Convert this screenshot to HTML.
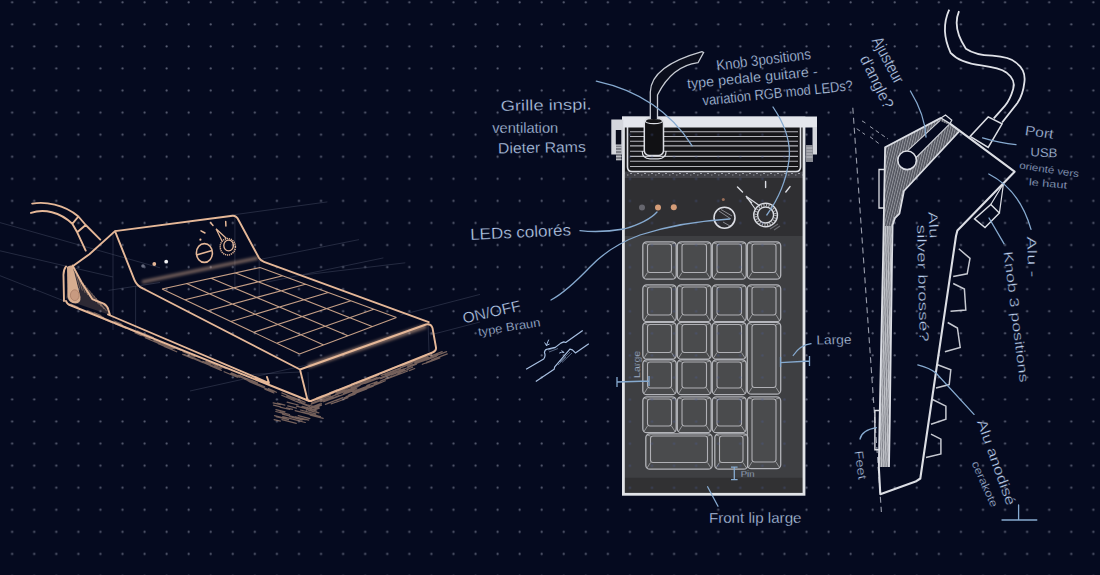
<!DOCTYPE html>
<html><head><meta charset="utf-8"><style>
html,body{margin:0;padding:0;background:#050a1f;width:1100px;height:575px;overflow:hidden}
svg{display:block}
text{font-family:"Liberation Sans",sans-serif}
</style></head><body>
<svg width="1100" height="575" viewBox="0 0 1100 575">
<defs>
<pattern id="dots" x="0" y="0" width="22.065" height="22.065" patternUnits="userSpaceOnUse">
<circle cx="12.15" cy="2.3" r="1.1" fill="#5a5f74"/>
</pattern>
<pattern id="hatch" width="2.4" height="6" patternUnits="userSpaceOnUse" patternTransform="rotate(14)">
<rect width="1" height="6" fill="#d8dae0" opacity="0.5"/>
</pattern>
<pattern id="hatchv" width="2.2" height="9" patternUnits="userSpaceOnUse" patternTransform="rotate(-1.2)">
<rect width="1.1" height="9" fill="#eceef2" opacity="0.6"/>
</pattern>
<pattern id="dots2" x="0" y="0" width="22.065" height="22.065" patternUnits="userSpaceOnUse">
<circle cx="12.15" cy="2.3" r="1.2" fill="#4a5c96" opacity="0.35"/>
</pattern>
<pattern id="speck" width="7" height="4" patternUnits="userSpaceOnUse">
<rect x="0" y="1" width="2" height="1" fill="#9a9ca4"/><rect x="4" y="2.5" width="1.5" height="1" fill="#8a8c94"/>
</pattern>
<filter id="fuzz" x="-5%" y="-5%" width="110%" height="110%"><feGaussianBlur stdDeviation="0.45"/></filter>
<filter id="soft" x="-10%" y="-10%" width="120%" height="120%"><feGaussianBlur stdDeviation="3"/></filter>
<filter id="soft2" x="-10%" y="-50%" width="120%" height="200%"><feGaussianBlur stdDeviation="1.6"/></filter>
</defs>
<rect width="1100" height="575" fill="#050a1f"/>
<rect width="1100" height="575" fill="url(#dots)"/>
<line x1="0" y1="222.6" x2="160" y2="267.8" stroke="#4a5068" stroke-width="0.9" opacity="0.5"/>
<line x1="0" y1="250.8" x2="113" y2="277" stroke="#4a5068" stroke-width="0.9" opacity="0.5"/>
<line x1="0" y1="275.7" x2="66" y2="301.7" stroke="#4a5068" stroke-width="0.9" opacity="0.5"/>
<line x1="108.5" y1="290.4" x2="160" y2="282.5" stroke="#4a5068" stroke-width="0.9" opacity="0.5"/>
<line x1="230" y1="215.3" x2="327.4" y2="201.9" stroke="#4a5068" stroke-width="0.9" opacity="0.5"/>
<line x1="261.6" y1="259.1" x2="359" y2="239.6" stroke="#4a5068" stroke-width="0.9" opacity="0.5"/>
<line x1="303" y1="275" x2="405.3" y2="262.8" stroke="#4a5068" stroke-width="0.9" opacity="0.5"/>
<line x1="266.5" y1="282.2" x2="383.4" y2="257.9" stroke="#4a5068" stroke-width="0.9" opacity="0.5"/>
<line x1="400.4" y1="315.1" x2="480" y2="294.4" stroke="#4a5068" stroke-width="0.9" opacity="0.5"/>
<line x1="430" y1="335" x2="480" y2="322" stroke="#4a5068" stroke-width="0.9" opacity="0.5"/>
<line x1="190" y1="391" x2="311.6" y2="364" stroke="#4a5068" stroke-width="0.9" opacity="0.5"/>
<line x1="240" y1="375" x2="300" y2="372" stroke="#4a5068" stroke-width="0.9" opacity="0.5"/>
<line x1="234.9" y1="215" x2="234.9" y2="290" stroke="#4a5068" stroke-width="0.9" opacity="0.5"/>
<line x1="259.2" y1="260" x2="259.2" y2="300" stroke="#4a5068" stroke-width="0.9" opacity="0.5"/>
<line x1="113" y1="231.6" x2="113" y2="330" stroke="#4a5068" stroke-width="0.9" opacity="0.5"/>
<line x1="135.6" y1="286" x2="135.6" y2="330" stroke="#4a5068" stroke-width="0.9" opacity="0.5"/>
<line x1="308" y1="372" x2="309" y2="402" stroke="#4a5068" stroke-width="0.9" opacity="0.5"/>
<line x1="428" y1="322" x2="429" y2="352" stroke="#4a5068" stroke-width="0.9" opacity="0.5"/>
<path d="M387.5 378.6 l13.7 -5.2 M399.3 374.2 l5.3 -2.0 M422.6 361.2 l14.9 -5.7 M366.1 381.7 l11.0 -4.2 M311.1 404.3 l8.1 -3.1 M400.5 366.0 l13.8 -5.2 M386.4 373.2 l5.0 -1.9 M335.4 394.5 l15.8 -6.0 M344.2 398.3 l10.9 -4.2 M335.4 402.5 l12.6 -4.8 M416.7 360.8 l9.0 -3.4 M325.8 396.0 l8.3 -3.2 M306.3 410.1 l8.7 -3.3 M409.2 366.2 l8.5 -3.2 M392.2 368.2 l15.7 -6.0 M402.5 373.0 l5.2 -2.0 M350.1 390.3 l5.1 -1.9 M331.1 403.9 l7.2 -2.7 M422.3 364.3 l8.8 -3.3 M374.1 384.1 l6.2 -2.4 M409.3 370.6 l5.4 -2.1 M320.9 401.8 l11.7 -4.5 M348.4 395.2 l11.0 -4.2 M344.5 388.7 l5.9 -2.2 M390.4 377.5 l6.8 -2.6 M428.8 358.0 l9.5 -3.6 M380.8 380.9 l10.0 -3.8 M313.9 410.1 l5.4 -2.0 M414.5 362.2 l13.0 -5.0 M385.4 378.7 l6.2 -2.3 M325.4 404.4 l8.2 -3.1 M431.6 359.9 l15.7 -6.0 M366.8 385.5 l10.3 -3.9 M360.4 384.0 l9.1 -3.5 M426.0 360.2 l10.5 -4.0 M320.3 401.1 l13.6 -5.2 M353.3 392.7 l13.5 -5.1 M391.2 376.7 l9.0 -3.4 M343.3 393.7 l13.5 -5.1 M344.2 397.9 l12.1 -4.6 M309.5 408.2 l7.8 -2.9 M366.7 387.7 l12.1 -4.6 M352.5 391.9 l13.1 -5.0 M351.9 393.9 l14.6 -5.5 M429.2 362.0 l10.7 -4.1 M327.6 403.4 l15.3 -5.8 M391.5 374.9 l13.0 -5.0 M404.1 369.0 l12.3 -4.7 M386.3 378.9 l12.0 -4.6 M311.4 403.0 l9.9 -3.7 M331.6 399.0 l11.9 -4.5 M363.7 381.4 l5.6 -2.1 M343.9 388.7 l7.1 -2.7 M365.7 383.3 l11.7 -4.5 M336.2 400.4 l5.0 -1.9 M343.8 393.0 l6.3 -2.4 M351.3 384.4 l11.7 -4.5 M377.9 378.8 l11.4 -4.3 M410.2 365.7 l13.9 -5.3 M353.6 385.7 l11.6 -4.4 M425.8 363.1 l11.7 -4.4 M419.1 358.3 l6.2 -2.4 M386.2 373.4 l11.9 -4.5 M352.7 388.3 l7.5 -2.8 M431.0 357.5 l15.6 -5.9 M381.5 375.5 l15.8 -6.0 M358.9 385.2 l15.8 -6.0 M343.5 393.4 l6.3 -2.4 M364.4 383.5 l13.6 -5.2 M311.3 407.9 l8.0 -3.0 M402.7 366.0 l7.9 -3.0 M430.5 356.0 l11.7 -4.4 M385.3 376.2 l13.2 -5.0 M401.1 367.6 l10.9 -4.1 M343.3 393.4 l10.1 -3.8 M398.6 370.9 l5.4 -2.1 M364.2 389.1 l14.8 -5.6 M309.3 410.7 l9.7 -3.7 M398.0 373.2 l10.3 -3.9 M353.4 387.4 l14.4 -5.5 M346.1 396.5 l5.7 -2.2 M395.5 372.1 l8.1 -3.1 M421.1 358.7 l10.3 -3.9 M369.7 381.1 l6.7 -2.5 M410.4 363.0 l7.5 -2.9 M407.3 369.2 l5.3 -2.0 M426.6 362.2 l12.7 -4.8 M415.0 362.7 l12.1 -4.6 M398.6 368.5 l8.2 -3.1 M323.7 401.8 l9.6 -3.6 M384.1 372.1 l6.2 -2.4 M317.5 399.6 l11.3 -4.3 M415.7 360.2 l9.7 -3.7 M381.3 377.4 l15.3 -5.8 M314.8 407.6 l6.7 -2.5 M371.0 386.4 l11.1 -4.2 M341.4 395.3 l7.8 -3.0 M370.9 378.2 l7.6 -2.9 M400.0 367.7 l12.8 -4.9 M315.4 405.8 l6.0 -2.3 M381.1 375.4 l14.6 -5.6 M348.8 394.8 l5.3 -2.0 M314.8 401.6 l15.5 -5.9 M335.9 392.7 l15.7 -6.0 M408.7 363.1 l11.9 -4.5 M335.5 394.4 l11.8 -4.5 M356.1 384.8 l14.1 -5.4 M407.7 366.5 l14.4 -5.5 M380.5 378.6 l13.1 -5.0 M316.4 398.1 l7.2 -2.7 M415.2 362.6 l13.4 -5.1 M365.3 388.0 l11.8 -4.5 M363.2 380.5 l6.7 -2.5 M351.7 387.9 l14.7 -5.6 M337.5 392.9 l6.8 -2.6 M338.9 396.0 l5.4 -2.0 M354.2 393.8 l12.6 -4.8 M367.0 388.5 l6.3 -2.4 M341.4 395.2 l13.0 -4.9 M329.6 392.8 l7.5 -2.9 M356.0 392.5 l9.0 -3.4 M366.8 382.2 l13.1 -5.0 M330.1 397.1 l12.4 -4.7 M384.8 374.6 l15.7 -6.0 M311.9 408.3 l9.5 -3.6 M374.7 384.9 l10.7 -4.1 M318.7 398.7 l14.9 -5.7 M421.3 356.7 l7.7 -2.9 M356.1 383.5 l7.8 -3.0 M348.1 387.9 l5.4 -2.1 M329.6 399.2 l9.4 -3.6 M317.8 401.8 l6.2 -2.4 M420.4 361.9 l14.4 -5.5 M309.6 407.8 l10.4 -3.9 M356.6 390.3 l13.0 -4.9 M343.8 392.0 l14.1 -5.4 M323.1 400.2 l6.0 -2.3 M406.9 364.7 l6.4 -2.4 M338.1 391.3 l9.7 -3.7 M335.0 391.0 l12.7 -4.8 M280.0 407.1 l9.7 2.4 M275.9 409.6 l9.1 2.3 M302.1 412.0 l15.0 3.7 M298.2 415.7 l11.7 2.9 M289.7 416.7 l12.6 3.1 M310.2 415.1 l13.0 3.3 M282.7 416.6 l9.8 2.5 M277.2 403.2 l7.7 1.9 M282.5 414.2 l8.9 2.2 M274.5 415.7 l11.6 2.9 M273.1 402.9 l7.3 1.8 M286.3 417.5 l15.5 3.9 M296.5 406.2 l10.3 2.6 M286.5 407.9 l6.1 1.5 M295.4 416.9 l13.3 3.3 M275.8 411.5 l7.7 1.9 M300.4 410.0 l15.4 3.8 M303.8 404.1 l9.2 2.3 M308.6 410.3 l10.3 2.6 M289.7 415.8 l15.4 3.8 M293.3 419.5 l12.0 3.0 M276.1 416.7 l10.2 2.5 M274.1 419.6 l6.3 1.6 M295.1 410.7 l14.8 3.7 M287.7 405.9 l8.8 2.2 M280.0 412.1 l9.6 2.4 M302.0 406.3 l9.5 2.4 M281.9 419.7 l14.4 3.6 M306.0 413.1 l10.0 2.5 M277.7 417.0 l10.9 2.7 M273.5 405.1 l7.0 1.7 M300.7 418.2 l8.0 2.0 M303.9 407.8 l12.8 3.2 M306.5 413.2 l14.0 3.5 M287.1 402.2 l11.1 2.8 M208.5 361.8 l9.1 3.8 M144.9 334.0 l8.5 3.6 M160.3 342.6 l11.6 4.9 M164.2 346.5 l12.5 5.3 M288.0 398.0 l11.4 4.8 M196.7 359.5 l8.9 3.7 M210.1 364.7 l10.2 4.3 M137.1 330.9 l6.7 2.8 M154.0 340.4 l12.1 5.1 M238.6 375.2 l13.4 5.6 M134.8 332.8 l6.6 2.8 M247.8 380.7 l13.7 5.7 M281.7 395.3 l12.7 5.3 M244.3 379.0 l7.7 3.2 M191.9 358.0 l7.9 3.3 M300.0 402.4 l9.1 3.8 M70.7 304.1 l7.4 3.1 M224.1 371.7 l13.3 5.6 M214.8 365.4 l6.9 2.9 M232.6 373.7 l11.7 4.9 M158.3 343.6 l7.7 3.2 M142.1 333.9 l11.0 4.6 M281.8 392.9 l11.1 4.6 M250.9 380.0 l6.5 2.7 M203.6 362.6 l13.0 5.5 M241.8 377.0 l9.4 3.9 M194.8 359.2 l8.4 3.5 M136.3 332.9 l13.7 5.8 M114.2 321.0 l6.9 2.9 M202.8 361.3 l7.5 3.1 M114.9 323.8 l11.2 4.7 M232.9 374.6 l6.5 2.7 M184.4 354.5 l13.7 5.7 M145.2 337.8 l11.2 4.7 M288.7 396.2 l11.6 4.9 M268.4 388.6 l6.8 2.9 M115.7 322.2 l6.7 2.8 M105.9 320.0 l6.8 2.9 M248.9 381.5 l12.5 5.3 M259.7 386.0 l13.4 5.6 M295.8 401.0 l13.7 5.8 M94.4 312.8 l6.5 2.7 M118.7 324.4 l9.7 4.1 M230.6 373.7 l6.7 2.8 M165.2 345.0 l9.0 3.8 M97.7 316.5 l9.0 3.8 M231.4 372.9 l13.7 5.8 M293.0 397.3 l12.1 5.1 M240.2 375.8 l6.9 2.9 M183.0 351.7 l11.9 5.0 M286.7 396.0 l8.3 3.5 M187.7 355.3 l12.3 5.2 M205.9 361.2 l8.7 3.7 M270.1 389.6 l6.4 2.7 M169.3 345.4 l11.3 4.8 M87.3 310.6 l6.8 2.8 M182.7 354.4 l10.3 4.3 M161.2 345.0 l6.7 2.8 M154.0 341.4 l6.0 2.5 M250.8 380.6 l6.1 2.6 M129.2 329.3 l9.1 3.8 M192.0 354.2 l7.7 3.3 M299.9 401.9 l9.8 4.1 M90.1 311.8 l13.6 5.7 M232.1 373.3 l6.4 2.7 M162.7 345.0 l9.5 4.0 M210.1 365.7 l11.2 4.7 M220.1 366.1 l6.2 2.6 M251.6 381.2 l13.0 5.5 M264.9 389.1 l9.0 3.8" stroke="#e6b898" stroke-width="1.2" opacity="0.5" fill="none" stroke-linecap="round" filter="url(#fuzz)"/>
<g filter="url(#soft2)" opacity="0.55"><path d="M142 282 L258 258" stroke="#e6b898" stroke-width="3"/><path d="M308 366 L426 326" stroke="#e6b898" stroke-width="4.5"/></g>
<path d="M162.0 289.0 L299.5 354.0 M186.5 283.6 L323.8 344.9 M211.0 278.2 L348.0 335.8 M235.5 272.9 L372.2 326.6 M260.0 267.5 L396.5 317.5 M162.0 289.0 L260.0 267.5 M184.9 299.8 L282.8 275.8 M207.8 310.7 L305.5 284.2 M230.8 321.5 L328.2 292.5 M253.7 332.3 L351.0 300.8 M276.6 343.2 L373.8 309.2 M299.5 354.0 L396.5 317.5" stroke="#e6b898" stroke-width="1.1" opacity="0.85" fill="none"/>
<path d="M32.2 203.6 C45 201.5 64 204 78.4 216.5 M31 212.9 C44 208.5 60 212 72.3 223.8 M78.4 216.5 L72.3 223.8 M85.7 225 L77.2 232.3 M78.4 216.5 L85.7 225 M72.3 223.8 L77.2 232.3 M85.7 225 L100.3 239.6 M77.2 232.3 L85.7 250.6 M72.3 266.4 L89.4 254.2 L115 231.1 L232.6 215.7 Q236.5 215.5 238.5 220 L258.7 257.4 Q260.5 260.5 264 261.8 L428.7 322.2 M115 231.1 L134.4 279.8 Q137 286 143 288.5 L300 369.5 M300 369.5 L426 324.5 Q431 323.5 432.5 328 L436 347.5 Q436.5 351 432.5 352.5 L311 401 Q307.5 401.5 307 398 Z M66 301 Q67 304.5 71 305.5 L308 400.5 M108 314.5 L269 383 L267 377 M66 266.5 Q63.2 270 63.5 276 L64 301 M72.5 265.5 L82.1 283.3 L92.3 299.1 L103.6 303.6 Q107.5 306 108.2 309.3 L110 315" stroke="#e6b898" stroke-width="1.9" fill="none" stroke-linejoin="round" stroke-linecap="round"/>
<path d="M72.5 265.5 L82.1 283.3 L92.3 299.1 L103.6 303.6 L108.2 309.3 L110 315 L72 302 L66 298 Z" fill="#e6b898" opacity="0.18"/>
<path d="M74.0 272.0 l3.0 14.0 M76.2 274.6 l3.5 13.7 M78.4 277.2 l4.0 13.4 M80.6 279.8 l4.5 13.1 M82.8 282.4 l5.0 12.8 M85.0 285.0 l5.5 12.5 M87.2 287.6 l6.0 12.2 M89.4 290.2 l6.5 11.9 M91.6 292.8 l7.0 11.6 M93.8 295.4 l7.5 11.3 M96.0 298.0 l8.0 11.0 M98.2 300.6 l8.5 10.7" stroke="#e6b898" stroke-width="0.8" opacity="0.5" fill="none"/>
<path d="M67 267 Q70 264.5 72.5 266 L80.5 297 Q81 303 75.5 303.5 Q69 303 67.5 297 Z" fill="#e6b898" opacity="0.92"/>
<ellipse cx="74.8" cy="295.2" rx="4.4" ry="5.4" fill="#c89a80" stroke="#a87c66" stroke-width="0.8"/>
<ellipse cx="204.4" cy="253" rx="8" ry="9.4" fill="none" stroke="#e6b898" stroke-width="1.6"/>
<path d="M196.5 255 L212 250.5" stroke="#e6b898" stroke-width="1.6"/>
<ellipse cx="227.8" cy="246.8" rx="7.6" ry="8.2" fill="none" stroke="#e6b898" stroke-width="1.5" stroke-dasharray="1.2 0.8"/>
<ellipse cx="228.6" cy="245.5" rx="4.8" ry="5.4" fill="none" stroke="#e6b898" stroke-width="1.3"/>
<path d="M216 228.7 L222 241 M216 228.7 L226.5 238.5" stroke="#e6b898" stroke-width="1.2" fill="none"/>
<path d="M201 230.8 L205 233 M210.5 222.5 L213 225.5 M225.7 221.5 L225.9 226" stroke="#e6b898" stroke-width="1.5" stroke-linecap="round"/>
<circle cx="200.4" cy="239.7" r="1.1" fill="#e6b898"/>
<circle cx="143" cy="266" r="1.8" fill="#6a6e82"/>
<circle cx="154.3" cy="264" r="1.9" fill="#e6b898"/>
<circle cx="166.2" cy="261.7" r="1.9" fill="#f2f2f4"/>
<rect x="623.5" y="120" width="180" height="374" fill="#3e3f42"/>
<rect x="624.5" y="178" width="178.5" height="58" fill="#2f2f32"/>
<rect x="624.5" y="477.8" width="178.5" height="15.5" fill="#313133"/>
<rect x="625" y="127" width="178" height="45" fill="#161619"/>
<rect x="624.5" y="171.5" width="178.5" height="6.5" fill="#404046"/>
<rect x="624.5" y="172.5" width="178.5" height="4" fill="url(#speck)"/>
<g stroke="#b4b5bb" stroke-width="1.15"><line x1="630" y1="131.7" x2="798" y2="131.7"/><line x1="630" y1="136.5" x2="798" y2="136.5"/><line x1="630" y1="141.2" x2="798" y2="141.2"/><line x1="630" y1="145.8" x2="798" y2="145.8"/><line x1="630" y1="151.2" x2="798" y2="151.2"/><line x1="630" y1="156.3" x2="798" y2="156.3"/><line x1="630" y1="161.2" x2="798" y2="161.2"/><line x1="630" y1="166.5" x2="798" y2="166.5"/></g>
<path d="M627.5 126 V167 Q627.5 171.5 632 171.5 H796 Q800.5 171.5 800.5 167 V126" fill="none" stroke="#dcdee4" stroke-width="1.6"/>
<rect x="642.8" y="241.8" width="33.4" height="37.4" rx="4" fill="#48494b" stroke="#c6c7cc" stroke-width="1.3" stroke-opacity="0.85"/><rect x="647.5" y="244.0" width="24.0" height="28.5" rx="2.5" fill="#4a4b4d" stroke="#cacbd0" stroke-width="1.1" stroke-opacity="0.8"/><path d="M644.0 243.0 L647.5 244.0 M675.0 243.0 L671.5 244.0 M644.0 278.0 L647.5 272.5 M675.0 278.0 L671.5 272.5" stroke="#c0c1c6" stroke-width="1" stroke-opacity="0.65"/>
<rect x="677.3" y="241.8" width="33.9" height="37.4" rx="4" fill="#48494b" stroke="#c6c7cc" stroke-width="1.3" stroke-opacity="0.85"/><rect x="682" y="244.0" width="24.5" height="28.5" rx="2.5" fill="#4a4b4d" stroke="#cacbd0" stroke-width="1.1" stroke-opacity="0.8"/><path d="M678.5 243.0 L682 244.0 M710.0 243.0 L706.5 244.0 M678.5 278.0 L682 272.5 M710.0 278.0 L706.5 272.5" stroke="#c0c1c6" stroke-width="1" stroke-opacity="0.65"/>
<rect x="712.3" y="241.8" width="33.9" height="37.4" rx="4" fill="#48494b" stroke="#c6c7cc" stroke-width="1.3" stroke-opacity="0.85"/><rect x="717" y="244.0" width="24.5" height="28.5" rx="2.5" fill="#4a4b4d" stroke="#cacbd0" stroke-width="1.1" stroke-opacity="0.8"/><path d="M713.5 243.0 L717 244.0 M745.0 243.0 L741.5 244.0 M713.5 278.0 L717 272.5 M745.0 278.0 L741.5 272.5" stroke="#c0c1c6" stroke-width="1" stroke-opacity="0.65"/>
<rect x="642.8" y="284.8" width="33.4" height="36.9" rx="4" fill="#48494b" stroke="#c6c7cc" stroke-width="1.3" stroke-opacity="0.85"/><rect x="647.5" y="287.0" width="24.0" height="28.0" rx="2.5" fill="#4a4b4d" stroke="#cacbd0" stroke-width="1.1" stroke-opacity="0.8"/><path d="M644.0 286.0 L647.5 287.0 M675.0 286.0 L671.5 287.0 M644.0 320.5 L647.5 315 M675.0 320.5 L671.5 315" stroke="#c0c1c6" stroke-width="1" stroke-opacity="0.65"/>
<rect x="677.3" y="284.8" width="33.9" height="36.9" rx="4" fill="#48494b" stroke="#c6c7cc" stroke-width="1.3" stroke-opacity="0.85"/><rect x="682" y="287.0" width="24.5" height="28.0" rx="2.5" fill="#4a4b4d" stroke="#cacbd0" stroke-width="1.1" stroke-opacity="0.8"/><path d="M678.5 286.0 L682 287.0 M710.0 286.0 L706.5 287.0 M678.5 320.5 L682 315 M710.0 320.5 L706.5 315" stroke="#c0c1c6" stroke-width="1" stroke-opacity="0.65"/>
<rect x="712.3" y="284.8" width="33.9" height="36.9" rx="4" fill="#48494b" stroke="#c6c7cc" stroke-width="1.3" stroke-opacity="0.85"/><rect x="717" y="287.0" width="24.5" height="28.0" rx="2.5" fill="#4a4b4d" stroke="#cacbd0" stroke-width="1.1" stroke-opacity="0.8"/><path d="M713.5 286.0 L717 287.0 M745.0 286.0 L741.5 287.0 M713.5 320.5 L717 315 M745.0 320.5 L741.5 315" stroke="#c0c1c6" stroke-width="1" stroke-opacity="0.65"/>
<rect x="642.8" y="322.3" width="33.4" height="36.9" rx="4" fill="#48494b" stroke="#c6c7cc" stroke-width="1.3" stroke-opacity="0.85"/><rect x="647.5" y="324.5" width="24.0" height="28.0" rx="2.5" fill="#4a4b4d" stroke="#cacbd0" stroke-width="1.1" stroke-opacity="0.8"/><path d="M644.0 323.5 L647.5 324.5 M675.0 323.5 L671.5 324.5 M644.0 358.0 L647.5 352.5 M675.0 358.0 L671.5 352.5" stroke="#c0c1c6" stroke-width="1" stroke-opacity="0.65"/>
<rect x="677.3" y="322.3" width="33.9" height="36.9" rx="4" fill="#48494b" stroke="#c6c7cc" stroke-width="1.3" stroke-opacity="0.85"/><rect x="682" y="324.5" width="24.5" height="28.0" rx="2.5" fill="#4a4b4d" stroke="#cacbd0" stroke-width="1.1" stroke-opacity="0.8"/><path d="M678.5 323.5 L682 324.5 M710.0 323.5 L706.5 324.5 M678.5 358.0 L682 352.5 M710.0 358.0 L706.5 352.5" stroke="#c0c1c6" stroke-width="1" stroke-opacity="0.65"/>
<rect x="712.3" y="322.3" width="33.9" height="36.9" rx="4" fill="#48494b" stroke="#c6c7cc" stroke-width="1.3" stroke-opacity="0.85"/><rect x="717" y="324.5" width="24.5" height="28.0" rx="2.5" fill="#4a4b4d" stroke="#cacbd0" stroke-width="1.1" stroke-opacity="0.8"/><path d="M713.5 323.5 L717 324.5 M745.0 323.5 L741.5 324.5 M713.5 358.0 L717 352.5 M745.0 358.0 L741.5 352.5" stroke="#c0c1c6" stroke-width="1" stroke-opacity="0.65"/>
<rect x="642.8" y="359.8" width="33.4" height="34.9" rx="4" fill="#48494b" stroke="#c6c7cc" stroke-width="1.3" stroke-opacity="0.85"/><rect x="647.5" y="362.0" width="24.0" height="26.0" rx="2.5" fill="#4a4b4d" stroke="#cacbd0" stroke-width="1.1" stroke-opacity="0.8"/><path d="M644.0 361.0 L647.5 362.0 M675.0 361.0 L671.5 362.0 M644.0 393.5 L647.5 388 M675.0 393.5 L671.5 388" stroke="#c0c1c6" stroke-width="1" stroke-opacity="0.65"/>
<rect x="677.3" y="359.8" width="33.9" height="34.9" rx="4" fill="#48494b" stroke="#c6c7cc" stroke-width="1.3" stroke-opacity="0.85"/><rect x="682" y="362.0" width="24.5" height="26.0" rx="2.5" fill="#4a4b4d" stroke="#cacbd0" stroke-width="1.1" stroke-opacity="0.8"/><path d="M678.5 361.0 L682 362.0 M710.0 361.0 L706.5 362.0 M678.5 393.5 L682 388 M710.0 393.5 L706.5 388" stroke="#c0c1c6" stroke-width="1" stroke-opacity="0.65"/>
<rect x="712.3" y="359.8" width="33.9" height="34.9" rx="4" fill="#48494b" stroke="#c6c7cc" stroke-width="1.3" stroke-opacity="0.85"/><rect x="717" y="362.0" width="24.5" height="26.0" rx="2.5" fill="#4a4b4d" stroke="#cacbd0" stroke-width="1.1" stroke-opacity="0.8"/><path d="M713.5 361.0 L717 362.0 M745.0 361.0 L741.5 362.0 M713.5 393.5 L717 388 M745.0 393.5 L741.5 388" stroke="#c0c1c6" stroke-width="1" stroke-opacity="0.65"/>
<rect x="642.8" y="396.8" width="33.4" height="35.9" rx="4" fill="#48494b" stroke="#c6c7cc" stroke-width="1.3" stroke-opacity="0.85"/><rect x="647.5" y="399.0" width="24.0" height="27.0" rx="2.5" fill="#4a4b4d" stroke="#cacbd0" stroke-width="1.1" stroke-opacity="0.8"/><path d="M644.0 398.0 L647.5 399.0 M675.0 398.0 L671.5 399.0 M644.0 431.5 L647.5 426 M675.0 431.5 L671.5 426" stroke="#c0c1c6" stroke-width="1" stroke-opacity="0.65"/>
<rect x="677.3" y="396.8" width="33.9" height="35.9" rx="4" fill="#48494b" stroke="#c6c7cc" stroke-width="1.3" stroke-opacity="0.85"/><rect x="682" y="399.0" width="24.5" height="27.0" rx="2.5" fill="#4a4b4d" stroke="#cacbd0" stroke-width="1.1" stroke-opacity="0.8"/><path d="M678.5 398.0 L682 399.0 M710.0 398.0 L706.5 399.0 M678.5 431.5 L682 426 M710.0 431.5 L706.5 426" stroke="#c0c1c6" stroke-width="1" stroke-opacity="0.65"/>
<rect x="712.3" y="396.8" width="33.9" height="35.9" rx="4" fill="#48494b" stroke="#c6c7cc" stroke-width="1.3" stroke-opacity="0.85"/><rect x="717" y="399.0" width="24.5" height="27.0" rx="2.5" fill="#4a4b4d" stroke="#cacbd0" stroke-width="1.1" stroke-opacity="0.8"/><path d="M713.5 398.0 L717 399.0 M745.0 398.0 L741.5 399.0 M713.5 431.5 L717 426 M745.0 431.5 L741.5 426" stroke="#c0c1c6" stroke-width="1" stroke-opacity="0.65"/>
<rect x="747.3" y="241.8" width="33.4" height="37.4" rx="4" fill="#48494b" stroke="#c6c7cc" stroke-width="1.3" stroke-opacity="0.85"/><rect x="752" y="244.0" width="24" height="28.5" rx="2.5" fill="#4a4b4d" stroke="#cacbd0" stroke-width="1.1" stroke-opacity="0.8"/><path d="M748.5 243.0 L752 244.0 M779.5 243.0 L776 244.0 M748.5 278.0 L752 272.5 M779.5 278.0 L776 272.5" stroke="#c0c1c6" stroke-width="1" stroke-opacity="0.65"/>
<rect x="747.3" y="284.8" width="33.4" height="36.9" rx="4" fill="#48494b" stroke="#c6c7cc" stroke-width="1.3" stroke-opacity="0.85"/><rect x="752" y="287.0" width="24" height="28.0" rx="2.5" fill="#4a4b4d" stroke="#cacbd0" stroke-width="1.1" stroke-opacity="0.8"/><path d="M748.5 286.0 L752 287.0 M779.5 286.0 L776 287.0 M748.5 320.5 L752 315 M779.5 320.5 L776 315" stroke="#c0c1c6" stroke-width="1" stroke-opacity="0.65"/>
<rect x="747.3" y="322.3" width="33.4" height="71.9" rx="4" fill="#48494b" stroke="#c6c7cc" stroke-width="1.3" stroke-opacity="0.85"/><rect x="752" y="324.5" width="24" height="63.0" rx="2.5" fill="#4a4b4d" stroke="#cacbd0" stroke-width="1.1" stroke-opacity="0.8"/><path d="M748.5 323.5 L752 324.5 M779.5 323.5 L776 324.5 M748.5 393.0 L752 387.5 M779.5 393.0 L776 387.5" stroke="#c0c1c6" stroke-width="1" stroke-opacity="0.65"/>
<rect x="747.3" y="396.8" width="33.4" height="71.9" rx="4" fill="#48494b" stroke="#c6c7cc" stroke-width="1.3" stroke-opacity="0.85"/><rect x="752" y="399.0" width="24" height="63.0" rx="2.5" fill="#4a4b4d" stroke="#cacbd0" stroke-width="1.1" stroke-opacity="0.8"/><path d="M748.5 398.0 L752 399.0 M779.5 398.0 L776 399.0 M748.5 467.5 L752 462 M779.5 467.5 L776 462" stroke="#c0c1c6" stroke-width="1" stroke-opacity="0.65"/>
<rect x="645.8" y="433.8" width="66.4" height="35.4" rx="4" fill="#48494b" stroke="#c6c7cc" stroke-width="1.3" stroke-opacity="0.85"/><rect x="650.5" y="436.0" width="57.0" height="26.5" rx="2.5" fill="#4a4b4d" stroke="#cacbd0" stroke-width="1.1" stroke-opacity="0.8"/><path d="M647.0 435.0 L650.5 436.0 M711.0 435.0 L707.5 436.0 M647.0 468.0 L650.5 462.5 M711.0 468.0 L707.5 462.5" stroke="#c0c1c6" stroke-width="1" stroke-opacity="0.65"/>
<rect x="714.8" y="433.8" width="32.9" height="35.4" rx="4" fill="#48494b" stroke="#c6c7cc" stroke-width="1.3" stroke-opacity="0.85"/><rect x="719.5" y="436.0" width="23.5" height="26.5" rx="2.5" fill="#4a4b4d" stroke="#cacbd0" stroke-width="1.1" stroke-opacity="0.8"/><path d="M716.0 435.0 L719.5 436.0 M746.5 435.0 L743 436.0 M716.0 468.0 L719.5 462.5 M746.5 468.0 L743 462.5" stroke="#c0c1c6" stroke-width="1" stroke-opacity="0.65"/>
<rect x="623.4" y="118" width="180.6" height="376.3" fill="none" stroke="#e2e4e8" stroke-width="2.8"/>
<rect x="622" y="116.5" width="195" height="11" fill="#e4e6ec"/>
<rect x="611.3" y="119.5" width="12" height="35" fill="#d4d6dc"/>
<rect x="615.8" y="130" width="5.5" height="14.5" fill="#0a0d1c"/>
<rect x="616" y="145.5" width="5.5" height="15" fill="#7c7e86"/>
<path d="M616 147.5 H621.5 M616 150.5 H621.5 M616 153.5 H621.5 M616 156.5 H621.5 M616 159.5 H621.5" stroke="#c8cad0" stroke-width="0.8"/>
<rect x="812.5" y="127" width="4.5" height="27.5" fill="#d4d6dc"/>
<rect x="806" y="145" width="7" height="17" fill="#8a8c94"/>
<path d="M806.5 148 H812.5 M806.5 151 H812.5 M806.5 154 H812.5 M806.5 157 H812.5" stroke="#d0d2d8" stroke-width="0.8"/>
<path d="M642.2 151 Q642.2 158.8 650 158.8 H658.3 Q666.1 158.8 666.1 151" fill="none" stroke="#dcdee4" stroke-width="1.2"/>
<rect x="644.3" y="118" width="19.2" height="37.5" rx="5" fill="#111114" stroke="#dcdee4" stroke-width="1.5"/>
<ellipse cx="653.9" cy="121" rx="8.5" ry="2.6" fill="none" stroke="#dcdee4" stroke-width="1.1"/>
<path d="M650.3 119 V92 Q651 66 702 51.7 L703.6 52.5 L698 62.7 Q672 66 657.5 95 V119" fill="#0b0e1c" stroke="#c8ccd4" stroke-width="1.3"/>
<circle cx="642" cy="207.4" r="3" fill="#66666e"/>
<circle cx="658" cy="207.4" r="3" fill="#d49c78"/>
<circle cx="673.8" cy="207.2" r="3" fill="#d49c78"/>
<circle cx="723.3" cy="199.5" r="1.5" fill="#9a6e58"/>
<circle cx="724.5" cy="217.7" r="10.5" fill="#2b2b2f" stroke="#dcdee4" stroke-width="1.6"/>
<path d="M719 211 L731 219 M721 209.5 L732 216 M723 222 L730 226" stroke="#8a8b92" stroke-width="1"/>
<circle cx="765.6" cy="215" r="11.8" fill="none" stroke="#dcdee4" stroke-width="1.5"/>
<circle cx="765.6" cy="215" r="8" fill="none" stroke="#dcdee4" stroke-width="1.4"/>
<circle cx="765.6" cy="215" r="9.9" fill="none" stroke="#b0b2b8" stroke-width="2.6" stroke-dasharray="1 1.6"/>
<path d="M745.8 196 L760 206 M745.8 196 L756 210 M746.5 197.5 L752 203" stroke="#dcdee4" stroke-width="1.1" fill="none"/>
<path d="M765.6 181.5 V187.5 M737.5 187 L742.5 192 M790 186.6 L785.8 192" stroke="#dcdee4" stroke-width="1.4" stroke-linecap="round"/>
<path d="M770 229 L778 224 M774 230 L780 226" stroke="#6a6b72" stroke-width="1.2"/>
<path d="M852.8 107.8 L881.4 512" stroke="#9a9eac" stroke-width="1.1" stroke-dasharray="6 4" fill="none"/>
<path d="M870 126.5 L888 139 M870 136.7 L880.2 144.6 M862 120.9 L868 124.5 M856.7 128.7 L865 134.5" stroke="#9a9eac" stroke-width="1" stroke-dasharray="4 3" fill="none"/>
<polygon points="885.1,147.3 941.0,117.9 950.0,123.6 959.1,131.5 903.9,191.0 899.4,213.6 894.9,218.1 892.6,225.0 892.0,260.0 889.8,420.0 889.0,467.0 878.8,467.0 879.6,420.0 883.0,260.0" fill="#50525c"/>
<polygon points="885.1,147.3 941.0,117.9 950.0,123.6 959.1,131.5 903.9,191.0 899.4,213.6 894.9,218.1 892.6,225.0 892.0,260.0 889.8,420.0 889.0,467.0 878.8,467.0 879.6,420.0 883.0,260.0" fill="url(#hatch)"/>
<polygon points="883.5,226.0 891.5,226.0 891.5,260.0 889.3,420.0 888.5,467.0 879.3,467.0 880.1,420.0 883.5,260.0" fill="#9a9ca4" opacity="0.55"/>
<polygon points="883.5,226.0 891.5,226.0 891.5,260.0 889.3,420.0 888.5,467.0 879.3,467.0 880.1,420.0 883.5,260.0" fill="url(#hatchv)"/>
<polygon points="908.2,150.1 939.9,120.7 948.9,124.7 916.2,157.5" fill="#050a1f"/>
<path d="M908.2 150.1 L939.9 120.7 M916.2 157.5 L948.9 124.7" stroke="#d0d2d8" stroke-width="1.1" fill="none"/>
<circle cx="907.1" cy="160.3" r="9.3" fill="#050a1f" stroke="#dcdee4" stroke-width="1.6"/>
<path d="M878.8 467 L879.6 420 L883 260 L885.1 147.3 L941 117.9 M959.1 131.5 L903.9 191 L899.4 213.6 L894.9 218.1 L892.6 225 L892 260 L889.8 420 L889 467" stroke="#dcdee4" stroke-width="1.8" fill="none" stroke-linejoin="round"/>
<path d="M941 117.9 L945.5 115.1 L951.8 120.2 L950 123.6 Z" stroke="#dcdee4" stroke-width="1.2" fill="none"/>
<path d="M884.5 169.5 H879 V208 H884.5" stroke="#dcdee4" stroke-width="1.3" fill="none"/>
<path d="M950 123.6 L1014.6 171.7 L957.4 230.6 L956 236 L920.3 478.5 L915.6 481.6 L880.3 494.2 L878.8 467" stroke="#dcdee4" stroke-width="2.1" fill="none" stroke-linejoin="round"/>
<path d="M1003.5 183.5 L990.8 204.5 M1003.5 183.5 L999.4 213.1" stroke="#dcdee4" stroke-width="1.2" fill="none"/>
<polygon points="974.5,218.9 985.0,227.5 999.4,213.1 990.8,204.5" fill="none" stroke="#dcdee4" stroke-width="1.4"/>
<path d="M958.8 248.7 L970.0 258.4 L967.2 273.8 L953.2 276.5 M953.2 283.5 L964.4 289.0 L965.8 310.0 L950.5 311.3 M947.7 322.5 L957.4 328.0 L960.2 347.5 L944.9 351.7 M937.6 364.8 L950.8 369.8 L949.2 384.6 L936.0 388.0 M932.6 399.5 L945.9 406.1 L945.9 419.3 L931.0 424.3 M931.0 434.2 L940.9 439.2 L940.9 454.0 L926.0 457.4" stroke="#dcdee4" stroke-width="1.5" fill="none" opacity="0.9"/>
<path d="M879.6 410.5 H874.9 V449.7 H879.6" stroke="#dcdee4" stroke-width="1.4" fill="none"/>
<path d="M949.2 9.7 Q940 30 950.6 52.9 Q960 63 981.2 65.4 Q1000 68 1006.3 72.4 Q1016 80 1013.2 89 Q1010 100 1004.9 105.8 L993.8 118.3" stroke="#e0e2e8" stroke-width="1.8" fill="none"/>
<path d="M959 11.1 Q952 28 965.9 48.7 Q975 55 992.4 55.7 Q1010 57 1016 62.6 Q1026 70 1024.4 82.1 Q1023 95 1017.4 103 L1002.1 122.5" stroke="#e0e2e8" stroke-width="1.8" fill="none"/>
<polygon points="988.2,116.9 1002.1,123.9 988.2,147.5 970.1,136.4" fill="#050a1f" stroke="#dcdee4" stroke-width="1.5"/>
<rect x="624" y="128" width="180" height="366" fill="url(#dots2)"/>
<path d="M596.3 81.1 Q660 95 692.2 145.8 M773 107 Q792 135 789 160 Q785 190 766.8 215 M580 230.6 Q600 233 624 229 Q648 222 657 212 M551 300 Q566 292 590 267 Q610 246 640 235 Q680 222 729.7 219 M707.6 486.7 L718 506.3 M793.2 355.5 Q800 345 811 343.6 M910.4 91 Q925 115 926 137 M982.6 137.8 Q1000 143 1016 144.7 M988.8 174 Q1020 190 1031 229.4 M989 218 L1004.1 243.8 M917.8 364.8 Q930 368 936 373 L974 414.4 M876.4 427.6 Q862 430 860 439 M1002 520 H1036.8 M1018.6 505 V520" stroke="#86aad0" stroke-width="1.3" fill="none" stroke-linecap="round"/>
<path d="M526.1 369.3 L543.7 359 Q546 356 544.4 352.3 Q545 349.5 547.4 349.2 L555.3 347.4 L560.8 343.1 L563.8 341.9 L565.7 342.5 L582.7 330.4" stroke="#a8c0e2" stroke-width="1.2" fill="none" stroke-linejoin="round"/>
<path d="M535.8 381.5 L554.1 369.3 L554.7 366.9 L569.9 349.2 L572.4 349.8 L575.4 352.9 L588.8 343.7" stroke="#a8c0e2" stroke-width="1.2" fill="none" stroke-linejoin="round"/>
<path d="M548 350 L556 347.5 M549 352 L558 348.5 M560 362 L570 352 M562 362.5 L572 353 M558 365 L566 357" stroke="#a8c0e2" stroke-width="0.7" opacity="0.7" fill="none"/>
<path d="M548.6 340 L546.4 345.4 M546.4 345.4 L544.8 342.8 M546.4 345.4 L549.2 344.2 M559.6 352.9 Q561.5 351.6 563.8 352.3 M563.8 352.3 L561.8 350.8" stroke="#a8c0e2" stroke-width="1" fill="none" stroke-linecap="round"/>
<path d="M617 382 L649 381 M617 377 V387 M649 376 V386 M780.2 362.6 L809.8 361 M780.5 357 V367 M809.5 356 V366 M734.3 467.2 V479.6 M731 467.2 H737.6 M731 479.6 H737.6" stroke="#86aad0" stroke-width="1.3" fill="none"/>
<text x="500.7" y="111" fill="#bcd0ee" stroke="#050a1f" stroke-width="0.3" font-size="15" textLength="91" lengthAdjust="spacingAndGlyphs" transform="rotate(-1 500.7 111)">Grille inspi.</text>
<text x="492.2" y="132.6" fill="#bcd0ee" stroke="#050a1f" stroke-width="0.3" font-size="14" textLength="66" lengthAdjust="spacingAndGlyphs">ventilation</text>
<text x="498" y="153.5" fill="#bcd0ee" stroke="#050a1f" stroke-width="0.3" font-size="15" textLength="88" lengthAdjust="spacingAndGlyphs" transform="rotate(-1 498 153.5)">Dieter Rams</text>
<text x="717" y="70.5" fill="#bcd0ee" stroke="#050a1f" stroke-width="0.3" font-size="15" textLength="95" lengthAdjust="spacingAndGlyphs" transform="rotate(-7 717 70.5)">Knob 3positions</text>
<text x="687.5" y="88.5" fill="#bcd0ee" stroke="#050a1f" stroke-width="0.3" font-size="14" textLength="131" lengthAdjust="spacingAndGlyphs" transform="rotate(-5.5 687.5 88.5)">type pedale guitare -</text>
<text x="703" y="105.5" fill="#bcd0ee" stroke="#050a1f" stroke-width="0.3" font-size="14.5" textLength="151" lengthAdjust="spacingAndGlyphs" transform="rotate(-5.8 703 105.5)">variation RGB mod LEDs?</text>
<text x="470.4" y="239.9" fill="#bcd0ee" stroke="#050a1f" stroke-width="0.3" font-size="16" textLength="101" lengthAdjust="spacingAndGlyphs" transform="rotate(-2.6 470.4 239.9)">LEDs colorés</text>
<text x="464" y="323.5" fill="#bcd0ee" stroke="#050a1f" stroke-width="0.3" font-size="15" textLength="59" lengthAdjust="spacingAndGlyphs" transform="rotate(-13 464 323.5)">ON/OFF</text>
<text x="478.7" y="336" fill="#bcd0ee" stroke="#050a1f" stroke-width="0.3" font-size="12" textLength="63" lengthAdjust="spacingAndGlyphs" transform="rotate(-9 478.7 336)">type Braun</text>
<text x="708.9" y="522.6" fill="#bcd0ee" stroke="#050a1f" stroke-width="0.3" font-size="14" textLength="92.6" lengthAdjust="spacingAndGlyphs">Front lip large</text>
<text x="740.8" y="476.5" fill="#bcd0ee" stroke="#3e3f42" stroke-width="0.3" font-size="9" textLength="13.7" lengthAdjust="spacingAndGlyphs">Pin</text>
<text x="816.5" y="344.5" fill="#bcd0ee" stroke="#050a1f" stroke-width="0.3" font-size="13" textLength="35" lengthAdjust="spacingAndGlyphs" transform="rotate(-1 816.5 344.5)">Large</text>
<text x="639.5" y="378" fill="#bcd0ee" stroke="#3e3f42" stroke-width="0.3" font-size="9" textLength="27.3" lengthAdjust="spacingAndGlyphs" transform="rotate(-90 639.5 378)">Large</text>
<text x="1024.6" y="134.8" fill="#bcd0ee" stroke="#050a1f" stroke-width="0.3" font-size="13.5" textLength="28.5" lengthAdjust="spacingAndGlyphs" transform="rotate(8 1024.6 134.8)">Port</text>
<text x="1030.2" y="156.3" fill="#bcd0ee" stroke="#050a1f" stroke-width="0.3" font-size="12.5" textLength="27" lengthAdjust="spacingAndGlyphs" transform="rotate(2 1030.2 156.3)">USB</text>
<text x="1019" y="168.6" fill="#bcd0ee" stroke="#050a1f" stroke-width="0.3" font-size="10" textLength="60" lengthAdjust="spacingAndGlyphs" transform="rotate(8.5 1019 168.6)">orienté vers</text>
<text x="1028.8" y="185.3" fill="#bcd0ee" stroke="#050a1f" stroke-width="0.3" font-size="10" textLength="38" lengthAdjust="spacingAndGlyphs" transform="rotate(5 1028.8 185.3)">le haut</text>
<text x="871.5" y="40.5" fill="#bcd0ee" stroke="#050a1f" stroke-width="0.3" font-size="16.5" textLength="50" lengthAdjust="spacingAndGlyphs" transform="rotate(62 871.5 40.5)">Ajusteur</text>
<text x="859.5" y="58.5" fill="#bcd0ee" stroke="#050a1f" stroke-width="0.3" font-size="16" textLength="57" lengthAdjust="spacingAndGlyphs" transform="rotate(64 859.5 58.5)">d'angle?</text>
<text x="928.2" y="211.7" fill="#bcd0ee" stroke="#050a1f" stroke-width="0.3" font-size="13" textLength="27" lengthAdjust="spacingAndGlyphs" transform="rotate(86 928.2 211.7)">Alu</text>
<text x="917" y="224.8" fill="#bcd0ee" stroke="#050a1f" stroke-width="0.3" font-size="13" textLength="117" lengthAdjust="spacingAndGlyphs" transform="rotate(88.7 917 224.8)">silver brossé?</text>
<text x="1027" y="236.5" fill="#bcd0ee" stroke="#050a1f" stroke-width="0.3" font-size="13" textLength="41" lengthAdjust="spacingAndGlyphs" transform="rotate(88 1027 236.5)">Alu -</text>
<text x="1003.4" y="251.8" fill="#bcd0ee" stroke="#050a1f" stroke-width="0.3" font-size="13" textLength="132" lengthAdjust="spacingAndGlyphs" transform="rotate(82.8 1003.4 251.8)">Knob 3 positions</text>
<text x="976.7" y="421.5" fill="#bcd0ee" stroke="#050a1f" stroke-width="0.3" font-size="14" textLength="90" lengthAdjust="spacingAndGlyphs" transform="rotate(70.4 976.7 421.5)">Alu anodisé</text>
<text x="971.5" y="463.3" fill="#bcd0ee" stroke="#050a1f" stroke-width="0.3" font-size="11" textLength="49" lengthAdjust="spacingAndGlyphs" transform="rotate(66 971.5 463.3)">cerakote</text>
<text x="854.5" y="451.2" fill="#bcd0ee" stroke="#050a1f" stroke-width="0.3" font-size="12" textLength="29" lengthAdjust="spacingAndGlyphs" transform="rotate(82 854.5 451.2)">Feet</text>
</svg>
</body></html>
